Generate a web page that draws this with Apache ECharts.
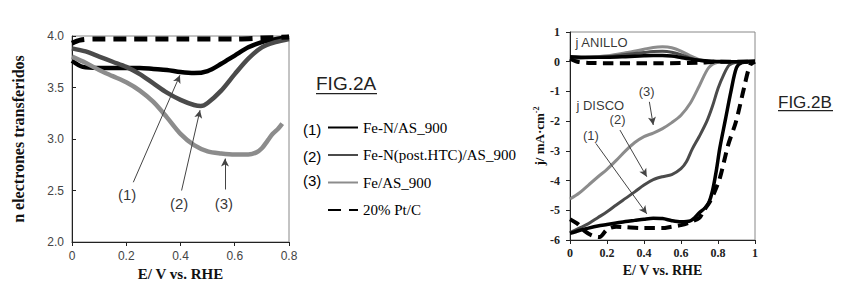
<!DOCTYPE html>
<html><head><meta charset="utf-8">
<script src="https://cdn.jsdelivr.net/npm/echarts@6/dist/echarts.min.js"></script>
<style>html,body{margin:0;padding:0;background:#fff}#c{width:854px;height:291px}</style>
</head><body><div id="c"></div>
<script>
// ---------- names ----------
const seriesNames = ['Fe-N/AS_900', 'Fe-N(post.HTC)/AS_900', 'Fe/AS_900', '20% Pt/C'];
const seriesTags = ['(1)', '(2)', '(3)'];
const colors = ['#000000', '#4b4b4b', '#8c8c8c', '#000000'];

// ---------- FIG.2A : n electrones transferidos vs E ----------
const nE_1 = [0, 0.04, 0.1, 0.15, 0.2, 0.25, 0.3, 0.35, 0.4, 0.45, 0.5, 0.55, 0.6, 0.65, 0.7, 0.75, 0.8];
const nV_1 = [3.76, 3.70, 3.69, 3.69, 3.69, 3.69, 3.68, 3.67, 3.65, 3.64, 3.66, 3.73, 3.81, 3.89, 3.94, 3.97, 3.99];
const nE_2 = [0, 0.05, 0.1, 0.15, 0.2, 0.25, 0.3, 0.35, 0.4, 0.45, 0.475, 0.5, 0.55, 0.6, 0.65, 0.7, 0.75, 0.8];
const nV_2 = [3.88, 3.85, 3.80, 3.75, 3.70, 3.63, 3.54, 3.45, 3.38, 3.33, 3.32, 3.35, 3.47, 3.63, 3.78, 3.89, 3.94, 3.97];
const nE_3 = [0, 0.05, 0.1, 0.15, 0.2, 0.25, 0.3, 0.35, 0.4, 0.45, 0.5, 0.55, 0.6, 0.65, 0.68, 0.7, 0.72, 0.74, 0.76, 0.775];
const nV_3 = [3.80, 3.74, 3.67, 3.61, 3.55, 3.47, 3.36, 3.21, 3.05, 2.94, 2.88, 2.86, 2.85, 2.85, 2.87, 2.91, 2.98, 3.05, 3.10, 3.15];
const nE_pt = [0, 0.03, 0.08, 0.2, 0.4, 0.6, 0.7, 0.8];
const nV_pt = [3.93, 3.96, 3.97, 3.97, 3.97, 3.97, 3.98, 3.99];

const xTicksA = [0, 0.2, 0.4, 0.6, 0.8];
const yTicksA = [2.0, 2.5, 3.0, 3.5, 4.0];

const arrowsA = [[[0.226, 2.58], [0.398, 3.62]], [[0.404, 2.50], [0.472, 3.28]], [[0.564, 2.51], [0.564, 2.81]]];
const labelsA = [[0.203, 2.46, '(1)'], [0.395, 2.37, '(2)'], [0.56, 2.37, '(3)']];

// ---------- FIG.2B : j vs E (disco) ----------
const dE_1 = [0, 0.05, 0.1, 0.15, 0.2, 0.25, 0.3, 0.35, 0.4, 0.45, 0.5, 0.55, 0.6, 0.65, 0.7, 0.73, 0.75, 0.77, 0.79, 0.81, 0.84, 0.87, 0.9, 0.93, 1.0];
const dJ_1 = [-5.78, -5.68, -5.6, -5.53, -5.48, -5.43, -5.38, -5.34, -5.3, -5.27, -5.28, -5.35, -5.39, -5.36, -5.08, -4.92, -4.75, -4.35, -3.7, -2.9, -1.95, -1.0, -0.2, -0.03, 0];
const dE_2 = [0, 0.05, 0.1, 0.15, 0.2, 0.25, 0.3, 0.35, 0.4, 0.45, 0.5, 0.55, 0.6, 0.63, 0.66, 0.7, 0.74, 0.77, 0.8, 0.83, 0.86, 0.9, 1.0];
const dJ_2 = [-5.75, -5.6, -5.45, -5.25, -5.05, -4.82, -4.6, -4.38, -4.15, -3.97, -3.87, -3.8, -3.6, -3.36, -2.95, -2.5, -2.0, -1.5, -0.9, -0.45, -0.12, -0.02, 0];
const dE_3 = [0, 0.05, 0.1, 0.15, 0.2, 0.25, 0.3, 0.35, 0.4, 0.45, 0.5, 0.55, 0.6, 0.65, 0.7, 0.75, 0.8, 0.85, 1.0];
const dJ_3 = [-4.62, -4.42, -4.15, -3.88, -3.62, -3.32, -3.0, -2.72, -2.52, -2.40, -2.25, -2.05, -1.8, -1.4, -0.8, -0.2, -0.02, 0, 0];
const dE_pt = [0, 0.04, 0.08, 0.12, 0.16, 0.2, 0.25, 0.3, 0.4, 0.5, 0.55, 0.6, 0.65, 0.7, 0.72, 0.757, 0.78, 0.81, 0.855, 0.897, 0.94, 0.973, 1.0];
const dJ_pt = [-5.3, -5.45, -5.7, -5.85, -5.9, -5.65, -5.55, -5.57, -5.6, -5.6, -5.55, -5.5, -5.4, -5.25, -5.04, -4.7, -4.4, -3.92, -2.8, -2.02, -0.9, -0.12, 0];

// ---------- FIG.2B : j vs E (anillo) ----------
const rE = [0, 0.1, 0.2, 0.3, 0.4, 0.45, 0.5, 0.55, 0.6, 0.65, 0.7, 0.75, 0.8, 0.9, 1.0];
const rJ_1 = [0.17, 0.15, 0.15, 0.17, 0.2, 0.21, 0.21, 0.19, 0.14, 0.09, 0.05, 0.02, 0.01, 0, 0.02];
const rJ_2 = [0.12, 0.13, 0.17, 0.24, 0.31, 0.34, 0.35, 0.32, 0.24, 0.12, 0.04, 0.01, 0, 0, 0];
const rJ_3 = [0.12, 0.15, 0.2, 0.3, 0.42, 0.48, 0.5, 0.47, 0.36, 0.2, 0.07, 0.01, 0, 0, 0];
const rE_pt = [0, 0.04, 0.1, 0.3, 0.5, 0.7, 0.8, 1.0];
const rJ_pt = [0.1, 0.0, -0.04, -0.05, -0.05, -0.03, 0, 0];

const xTicksB = [0, 0.2, 0.4, 0.6, 0.8, 1];
const yTicksB = [-6, -5, -4, -3, -2, -1, 0, 1];

const arrowsB = [[[0.14, -2.75], [0.415, -5.12]], [[0.27, -2.30], [0.415, -3.87]], [[0.429, -1.35], [0.45, -2.13]]];
const labelsB = [[0.113, -2.47, '(1)'], [0.257, -1.96, '(2)'], [0.414, -1.01, '(3)']];
const textsB = [[0.03, 0.63, 'j ANILLO'], [0.035, -1.46, 'j DISCO']];

// ---------- build ----------
const zip = (xs, ys) => xs.map((x, i) => [x, ys[i]]);
const SERIF = 'Liberation Serif';
const SANS = 'Liberation Sans';

function lineSeries(idx, xs, ys, gridIdx, width, dashed) {
  return {
    type: 'line', name: seriesNames[idx], xAxisIndex: gridIdx, yAxisIndex: gridIdx,
    data: zip(xs, ys), showSymbol: false, symbol: 'none', smooth: 0.3,
    lineStyle: { color: colors[idx], width: width, type: dashed ? [width * 2.6, width * 1.6] : 'solid', cap: 'butt', join: 'round' },
    itemStyle: { color: colors[idx] },
    z: dashed ? 3 : 2, silent: true
  };
}

function arrowSeries(gridIdx, arrows, labels, fontSize) {
  return {
    type: 'scatter', xAxisIndex: gridIdx, yAxisIndex: gridIdx, symbolSize: 0, silent: true,
    data: labels.map(l => [l[0], l[1], l[2]]),
    label: { show: true, position: 'inside', formatter: p => p.value[2], fontFamily: SANS, fontSize: fontSize, color: '#000' },
    markLine: {
      silent: true, symbol: ['none', 'arrow'], symbolSize: [6, 8], label: { show: false },
      lineStyle: { color: '#444', width: 1, type: 'solid' },
      data: arrows.map(a => [{ coord: a[0] }, { coord: a[1] }])
    }, z: 5
  };
}

const seriesList = [
  lineSeries(3, nE_pt, nV_pt, 0, 5, true),
  lineSeries(0, nE_1, nV_1, 0, 4.5, false),
  lineSeries(1, nE_2, nV_2, 0, 4.5, false),
  lineSeries(2, nE_3, nV_3, 0, 4.5, false),
  arrowSeries(0, arrowsA, labelsA, 15),

  lineSeries(2, dE_3, dJ_3, 1, 3, false),
  lineSeries(1, dE_2, dJ_2, 1, 3, false),
  lineSeries(3, dE_pt, dJ_pt, 1, 4, true),
  lineSeries(0, dE_1, dJ_1, 1, 3.5, false),
  lineSeries(2, rE, rJ_3, 1, 3, false),
  lineSeries(1, rE, rJ_2, 1, 3, false),
  lineSeries(3, rE_pt, rJ_pt, 1, 4, true),
  lineSeries(0, rE, rJ_1, 1, 3.5, false),
  arrowSeries(1, arrowsB, labelsB, 13),
  {
    type: 'scatter', xAxisIndex: 1, yAxisIndex: 1, symbolSize: 0, silent: true,
    data: textsB,
    label: { show: true, position: 'right', distance: 0, formatter: p => p.value[2], fontFamily: SANS, fontSize: 13, color: '#000' }
  }
];

const option = {
  animation: false,
  backgroundColor: '#fff',
  grid: [
    { left: 72, top: 36, width: 217, height: 206, show: true, borderColor: '#888', borderWidth: 1 },
    { left: 570, top: 32, width: 185, height: 208, show: true, borderColor: '#888', borderWidth: 1 }
  ],
  xAxis: [
    {
      type: 'value', gridIndex: 0, min: xTicksA[0], max: xTicksA[xTicksA.length - 1], interval: 0.2,
      axisLine: { onZero: false, lineStyle: { color: '#222', width: 1 } },
      axisTick: { show: true, length: 4, lineStyle: { color: '#222' } }, splitLine: { show: false },
      axisLabel: { fontFamily: SANS, fontSize: 12, color: '#444', margin: 8, formatter: v => String(v) },
      name: 'E/ V vs. RHE', nameLocation: 'middle', nameGap: 22,
      nameTextStyle: { fontFamily: SERIF, fontWeight: 'bold', fontSize: 15, color: '#111' }
    },
    {
      type: 'value', gridIndex: 1, min: xTicksB[0], max: xTicksB[xTicksB.length - 1], interval: 0.2,
      axisLine: { onZero: false, lineStyle: { color: '#222', width: 1 } },
      axisTick: { show: true, length: 4, lineStyle: { color: '#222' } }, splitLine: { show: false },
      axisLabel: { fontFamily: SERIF, fontWeight: 'bold', fontSize: 12, color: '#222', margin: 7, formatter: v => String(v) },
      name: 'E/ V vs. RHE', nameLocation: 'middle', nameGap: 22,
      nameTextStyle: { fontFamily: SERIF, fontWeight: 'bold', fontSize: 14, color: '#111' }
    }
  ],
  yAxis: [
    {
      type: 'value', gridIndex: 0, min: yTicksA[0], max: yTicksA[yTicksA.length - 1], interval: 0.5,
      axisLine: { show: true, onZero: false, lineStyle: { color: '#222', width: 1 } },
      axisTick: { show: true, inside: true, length: 4, lineStyle: { color: '#222' } }, splitLine: { show: false },
      axisLabel: { fontFamily: SANS, fontSize: 12, color: '#444', margin: 8, formatter: v => Number(v).toFixed(1) },
      name: 'n electrones transferidos', nameLocation: 'middle', nameGap: 46,
      nameTextStyle: { fontFamily: SERIF, fontWeight: 'bold', fontSize: 16, color: '#111' }
    },
    {
      type: 'value', gridIndex: 1, min: yTicksB[0], max: yTicksB[yTicksB.length - 1], interval: 1,
      axisLine: { show: true, onZero: false, lineStyle: { color: '#222', width: 1 } },
      axisTick: { show: true, length: 4, lineStyle: { color: '#222' } }, splitLine: { show: false },
      axisLabel: { fontFamily: SERIF, fontWeight: 'bold', fontSize: 12, color: '#222', margin: 10, formatter: v => String(v) },
      name: 'j/ mA·cm{s|-2}', nameLocation: 'middle', nameGap: 18,
      nameTextStyle: { fontFamily: SERIF, fontWeight: 'bold', fontSize: 13, color: '#111',
        rich: { s: { fontFamily: SERIF, fontWeight: 'bold', fontSize: 8, verticalAlign: 'top', padding: [0, 0, 6, 0], color: '#111' } } }
    }
  ],
  legend: {
    orient: 'vertical', left: 322, top: 115, itemWidth: 30, itemHeight: 16, itemGap: 12.5,
    data: seriesNames, itemStyle: { opacity: 0 },
    textStyle: { fontFamily: SERIF, fontSize: 15, color: '#000' }
  },
  graphic: [
    { type: 'text', left: 316, top: 74, style: { text: 'FIG.2A', font: '19px "Liberation Sans"', fill: '#222' } },
    { type: 'rect', left: 316, top: 93, shape: { width: 61, height: 1.2 }, style: { fill: '#222' } },
    { type: 'text', left: 778, top: 94, style: { text: 'FIG.2B', font: '17px "Liberation Sans"', fill: '#222' } },
    { type: 'rect', left: 778, top: 110, shape: { width: 55, height: 1.2 }, style: { fill: '#222' } },
    { type: 'text', left: 303, top: 122, style: { text: seriesTags[0], font: '15px "Liberation Sans"', fill: '#000' } },
    { type: 'text', left: 303, top: 148.5, style: { text: seriesTags[1], font: '15px "Liberation Sans"', fill: '#000' } },
    { type: 'text', left: 303, top: 173, style: { text: seriesTags[2], font: '15px "Liberation Sans"', fill: '#000' } }
  ],
  series: seriesList
};

const chart = echarts.init(document.getElementById('c'), null, { renderer: 'svg', width: 854, height: 291 });
chart.setOption(option);
</script>
</body></html>
